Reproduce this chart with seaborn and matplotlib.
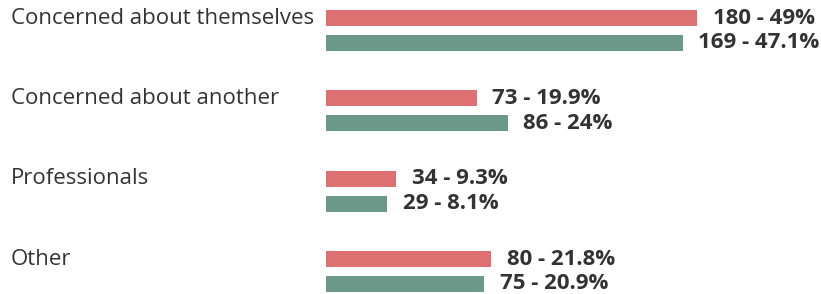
import matplotlib
matplotlib.use("Agg")
import matplotlib.pyplot as plt
import matplotlib.transforms as mtransforms
import pandas as pd
import seaborn as sns

categories = ["Concerned about themselves", "Concerned about another", "Professionals", "Other"]
series = ["First", "Second"]
counts_first = [180, 73, 34, 80]
pct_first = [49, 19.9, 9.3, 21.8]
counts_second = [169, 86, 29, 75]
pct_second = [47.1, 24, 8.1, 20.9]
colors = ["#dd7171", "#6c988a"]

sns.set_style("white")
plt.rcParams["font.family"] = ["Open Sans", "DejaVu Sans"]

df = pd.DataFrame({
    "category": categories * 2,
    "series": [series[0]] * 4 + [series[1]] * 4,
    "pct": pct_first + pct_second,
    "count": counts_first + counts_second,
})

fig = plt.figure(figsize=(8.21, 2.94), dpi=100)
ax = fig.add_axes([326 / 821, 0, 495 / 821, 1])

sns.barplot(data=df, x="pct", y="category", hue="series", palette=colors,
            orient="h", width=0.62, gap=0.36, saturation=1, linewidth=0,
            legend=False, ax=ax)

ax.set_xlim(0, 65.3)
ax.set_ylim(3.28, -0.38)
ax.set_axis_off()

for cont, cnts, pcts in zip(ax.containers, [counts_first, counts_second], [pct_first, pct_second]):
    labels = [f"{c} - {p:g}%" for c, p in zip(cnts, pcts)]
    ax.bar_label(cont, labels=labels, padding=11, fontsize=16,
                 fontweight="bold", color="#333333")

trans = mtransforms.blended_transform_factory(fig.transFigure, ax.transData)
for i, cat in enumerate(categories):
    ax.text(11 / 821, i - 0.155, cat, transform=trans, ha="left", va="center",
            fontsize=16, color="#333333")

fig.savefig("out.png", dpi=100)
